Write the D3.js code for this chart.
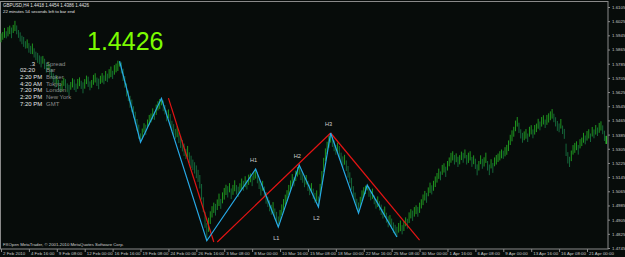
<!DOCTYPE html>
<html>
<head>
<meta charset="utf-8">
<script src="https://cdn.jsdelivr.net/npm/d3@7"></script>
<style>
  html, body { margin: 0; padding: 0; background: #070c0a; }
  svg { display: block; font-family: "Liberation Sans", Arial, sans-serif; }
</style>
</head>
<body>
<script>
// chart size (same as the screenshot)
var width = 625, height = 257;

// x axis labels, one every 16 H4 bars
var timeLabels = ["2 Feb 2010","4 Feb 16:00","9 Feb 08:00","12 Feb 00:00","16 Feb 16:00","19 Feb 08:00",
  "24 Feb 00:00","26 Feb 16:00","3 Mar 08:00","8 Mar 00:00","10 Mar 16:00","15 Mar 08:00",
  "18 Mar 00:00","22 Mar 16:00","25 Mar 08:00","30 Mar 00:00","1 Apr 16:00","6 Apr 08:00",
  "9 Apr 00:00","13 Apr 16:00","16 Apr 08:00","21 Apr 00:00"];

// price labels on the right
var priceTicks = [1.6105,1.6025,1.5945,1.5865,1.5785,1.5705,1.5625,1.5545,1.5465,
  1.5385,1.5305,1.5225,1.5145,1.5065,1.4985,1.4905,1.4825,1.4745];

// middle price of each H4 bar (GBPUSD)
var barMid = [
  1.5931,1.5942,1.5959,1.5948,1.5965,1.5976,1.5959,1.5981,1.5998,1.5976,1.5953,1.5936,1.5919,1.5908,1.5891,1.5897,1.5874,1.5863,1.5869,1.5846,
  1.5829,1.5818,1.5807,1.5795,1.5807,1.5784,1.5761,1.5773,1.5750,1.5728,1.5705,1.5683,1.5694,1.5666,1.5649,1.5660,1.5683,1.5671,1.5649,1.5637,
  1.5660,1.5677,1.5666,1.5649,1.5671,1.5683,1.5666,1.5649,1.5671,1.5694,1.5683,1.5660,1.5671,1.5694,1.5705,1.5683,1.5671,1.5694,1.5705,1.5694,
  1.5716,1.5705,1.5728,1.5739,1.5722,1.5750,1.5761,1.5773,1.5784,1.5761,1.5722,1.5683,1.5637,1.5604,1.5570,1.5547,1.5513,1.5479,1.5440,1.5401,
  1.5367,1.5389,1.5423,1.5412,1.5446,1.5468,1.5479,1.5502,1.5491,1.5525,1.5547,1.5558,1.5570,1.5547,1.5525,1.5491,1.5502,1.5468,1.5434,1.5412,
  1.5389,1.5401,1.5367,1.5344,1.5322,1.5299,1.5276,1.5288,1.5254,1.5231,1.5214,1.5197,1.5175,1.5152,1.5119,1.5062,1.4989,1.4904,1.4836,1.4876,
  1.4916,1.4949,1.4972,1.4961,1.4989,1.5017,1.4994,1.5028,1.5051,1.5073,1.5062,1.5085,1.5051,1.5073,1.5096,1.5073,1.5062,1.5085,1.5107,1.5096,
  1.5119,1.5102,1.5130,1.5141,1.5124,1.5152,1.5164,1.5141,1.5107,1.5073,1.5096,1.5062,1.5028,1.5006,1.4983,1.4961,1.4972,1.4938,1.4916,1.4893,
  1.4927,1.4961,1.4989,1.5017,1.5040,1.5073,1.5096,1.5130,1.5119,1.5152,1.5175,1.5186,1.5158,1.5141,1.5119,1.5130,1.5096,1.5073,1.5085,1.5051,
  1.5028,1.5040,1.5006,1.5073,1.5141,1.5214,1.5271,1.5310,1.5344,1.5367,1.5344,1.5322,1.5299,1.5310,1.5288,1.5254,1.5231,1.5243,1.5209,1.5175,
  1.5141,1.5107,1.5062,1.5028,1.4994,1.4972,1.5006,1.5040,1.5062,1.5073,1.5085,1.5062,1.5040,1.5051,1.5017,1.4994,1.5006,1.4983,1.4961,1.4938,
  1.4949,1.4916,1.4893,1.4904,1.4882,1.4859,1.4848,1.4836,1.4859,1.4870,1.4848,1.4870,1.4893,1.4882,1.4916,1.4938,1.4927,1.4949,1.4961,1.4949,
  1.4972,1.4994,1.5017,1.5040,1.5028,1.5062,1.5085,1.5073,1.5096,1.5119,1.5141,1.5164,1.5152,1.5186,1.5197,1.5175,1.5209,1.5231,1.5254,1.5265,
  1.5243,1.5254,1.5231,1.5243,1.5265,1.5254,1.5276,1.5243,1.5254,1.5265,1.5231,1.5243,1.5220,1.5186,1.5209,1.5243,1.5220,1.5231,1.5254,1.5209,
  1.5186,1.5220,1.5197,1.5231,1.5243,1.5254,1.5265,1.5276,1.5271,1.5288,1.5299,1.5322,1.5355,1.5378,1.5401,1.5434,1.5457,1.5423,1.5389,1.5367,
  1.5378,1.5389,1.5367,1.5401,1.5412,1.5389,1.5412,1.5423,1.5446,1.5434,1.5457,1.5468,1.5446,1.5468,1.5479,1.5491,1.5502,1.5479,1.5457,1.5434,
  1.5423,1.5446,1.5412,1.5389,1.5299,1.5254,1.5231,1.5265,1.5299,1.5310,1.5322,1.5299,1.5333,1.5344,1.5367,1.5355,1.5378,1.5389,1.5367,1.5401,
  1.5389,1.5412,1.5401,1.5423,1.5434,1.5412,1.5378,1.5355
];

// high-low range of each bar, in pips
var barRange = [
  50,44,56,40,52,48,60,46,58,50,44,52,48,56,42,50,54,46,60,52,
  48,56,50,62,44,58,52,46,60,54,50,64,48,56,52,60,46,54,50,58,
  44,52,60,48,56,50,46,62,54,48,58,50,44,56,52,48,60,46,54,50,
  56,48,52,60,46,54,50,58,30,62,70,66,74,60,68,72,64,70,66,80,
  50,60,52,58,48,56,50,62,46,58,52,56,40,60,54,62,50,66,58,64,
  56,62,60,68,64,70,58,66,62,70,60,64,72,68,76,88,84,90,100,80,
  72,64,58,66,60,70,56,62,66,58,64,52,60,56,62,54,58,50,60,56,
  62,54,58,50,60,48,54,62,58,64,56,60,66,58,62,56,64,60,66,60,
  66,60,64,58,62,56,60,64,52,58,54,54,60,56,62,54,58,60,52,58,
  56,60,60,68,76,80,72,70,66,54,58,62,56,60,64,58,62,56,60,66,
  62,68,64,60,58,60,56,60,52,48,30,56,52,58,50,54,60,52,58,54,
  60,56,62,54,58,60,56,58,54,60,52,58,50,56,60,52,58,54,50,56,
  58,52,60,54,56,50,58,52,56,60,54,58,50,56,52,58,54,50,56,52,
  54,50,58,52,48,56,50,54,58,52,56,50,58,62,54,50,56,52,58,54,
  60,52,56,50,54,48,52,50,46,52,56,60,58,62,56,60,54,58,52,56,
  50,54,48,56,52,50,54,48,56,50,54,52,48,56,52,50,54,48,52,56,
  50,54,48,56,70,64,58,60,54,56,50,54,52,48,56,50,54,52,48,54,
  50,54,48,56,52,50,58,46
];

// zigzag turning points (bar index, price)
var zigzagBar = [68, 80, 92, 118, 146, 159, 171, 182, 189, 205, 210, 227];
var zigzagPrice = [1.5799, 1.5342, 1.5590, 1.4786, 1.5191, 1.4863, 1.5213, 1.4976, 1.5394, 1.4942, 1.5100, 1.4807];

// H/L marks of the pattern
var markName = ["H1", "L1", "H2", "L2", "H3"];
var markBar = [146, 159, 171, 182, 189];
var markPrice = [1.5191, 1.4863, 1.5213, 1.4976, 1.5394];

// red trend lines: start bar, start price, end bar, end price
var trendFromBar = [96, 124, 189];
var trendFromPrice = [1.5591, 1.4779, 1.5394];
var trendToBar = [122, 189, 240];
var trendToPrice = [1.4779, 1.5394, 1.4790];

// info panel
var infoValues = ["3", "02:20", "2:20 PM", "4:20 AM", "7:20 PM", "2:20 PM", "7:20 PM"];
var infoNames = ["Spread", "Bar", "Broker", "Tokyo", "London", "New York", "GMT"];

var svg = d3.select("body").append("svg")
    .attr("width", width)
    .attr("height", height);

svg.append("rect")
    .attr("width", width).attr("height", height)
    .attr("fill", "#070c0a");

// scales
var x = d3.scaleLinear().domain([0, 336]).range([1, 587]);
var y = d3.scaleLinear().domain([1.4745, 1.6105]).range([248, 7]);

// chart frame
svg.append("rect")
    .attr("x", 0.5).attr("y", 1.5)
    .attr("width", 607.5).attr("height", 247.5)
    .attr("fill", "none")
    .attr("stroke", "#8a8a8a")
    .attr("stroke-width", 1);

var plot = svg.append("g");

// the bars
plot.selectAll(".bar")
    .data(barMid)
    .enter().append("line")
    .attr("class", "bar")
    .attr("x1", function(d, i) { return x(i); })
    .attr("x2", function(d, i) { return x(i); })
    .attr("y1", function(d, i) { return y(d + barRange[i] / 20000); })
    .attr("y2", function(d, i) { return y(d - barRange[i] / 20000); })
    .attr("stroke", function(d, i) {
      if (i == barMid.length - 1) return "#3cff3c";
      return (i == 0 || d >= barMid[i - 1]) ? "#1f961f" : "#15663a";
    })
    .attr("stroke-width", 1);

// red trend lines
plot.selectAll(".trend")
    .data(trendFromBar)
    .enter().append("line")
    .attr("class", "trend")
    .attr("x1", function(d) { return x(d); })
    .attr("y1", function(d, i) { return y(trendFromPrice[i]); })
    .attr("x2", function(d, i) { return x(trendToBar[i]); })
    .attr("y2", function(d, i) { return y(trendToPrice[i]); })
    .attr("stroke", "#e31414")
    .attr("stroke-width", 1.2);

// zigzag
var zz = d3.line()
    .x(function(d) { return x(d); })
    .y(function(d, i) { return y(zigzagPrice[i]); });

plot.append("path")
    .attr("d", zz(zigzagBar))
    .attr("fill", "none")
    .attr("stroke", "#27a9e6")
    .attr("stroke-width", 1.2);

// H / L labels
plot.selectAll(".mark")
    .data(markName)
    .enter().append("text")
    .attr("class", "mark")
    .attr("x", function(d, i) { return x(markBar[i]) - 2; })
    .attr("y", function(d, i) { return d[0] == "H" ? y(markPrice[i]) - 7 : y(markPrice[i]) + 13; })
    .attr("text-anchor", "middle")
    .attr("fill", "#d0d0d0")
    .style("font-size", "5.6px")
    .text(function(d) { return d; });

// x axis
var xAxis = svg.append("g")
    .attr("transform", "translate(0,249)")
    .call(d3.axisBottom(x)
      .tickValues(d3.range(0, 337, 16))
      .tickFormat(function(d, i) { return timeLabels[i]; })
      .tickSize(3)
      .tickSizeOuter(0));
xAxis.select(".domain").remove();
xAxis.selectAll("line").attr("stroke", "#8a8a8a");
xAxis.selectAll("text")
    .attr("fill", "#c8c8c8")
    .attr("y", 3)
    .attr("dy", "0.71em")
    .attr("dx", 1.5)
    .style("text-anchor", "start")
    .style("font-size", "4.4px")
    .style("font-family", "Liberation Sans, Arial, sans-serif");

// y axis on the right
var yAxis = svg.append("g")
    .attr("transform", "translate(608,0)")
    .call(d3.axisRight(y)
      .tickValues(priceTicks)
      .tickFormat(d3.format(".4f"))
      .tickSize(2)
      .tickSizeOuter(0));
yAxis.select(".domain").remove();
yAxis.selectAll("line").attr("stroke", "#8a8a8a");
yAxis.selectAll("text")
    .attr("fill", "#c8c8c8")
    .attr("x", 4)
    .style("font-size", "4.4px")
    .style("font-family", "Liberation Sans, Arial, sans-serif");

// header texts
svg.append("text")
    .attr("x", 3).attr("y", 7)
    .attr("fill", "#e0e0e0")
    .style("font-size", "4.5px")
    .text("GBPUSD,H4  1.4418 1.4454 1.4386 1.4426");

svg.append("text")
    .attr("x", 3).attr("y", 13)
    .attr("fill", "#e0e0e0")
    .style("font-size", "4.3px")
    .text("22 minutes 54 seconds left to bar end");

// big price
svg.append("text")
    .attr("x", 87).attr("y", 49.5)
    .attr("fill", "#7cfc00")
    .style("font-size", "25px")
    .style("font-family", "Liberation Sans, Arial, sans-serif")
    .text("1.4426");

// info panel
svg.selectAll(".infoVal")
    .data(infoValues)
    .enter().append("text")
    .attr("class", "infoVal")
    .attr("x", function(d, i) { return i == 0 ? 30 : 20; })
    .attr("y", function(d, i) { return 65.5 + i * 6.7; })
    .attr("fill", "#e4e4e4")
    .style("font-size", "6px")
    .text(function(d, i) { return i == 0 ? "." + d : d; });

svg.selectAll(".infoName")
    .data(infoNames)
    .enter().append("text")
    .attr("class", "infoName")
    .attr("x", 46)
    .attr("y", function(d, i) { return 65.5 + i * 6.7; })
    .attr("fill", "#8c8c8c")
    .style("font-size", "6px")
    .text(function(d) { return d; });

// copyright
svg.append("text")
    .attr("x", 3).attr("y", 246)
    .attr("fill", "#d0d0d0")
    .style("font-size", "4.3px")
    .text("FXOpen MetaTrader, © 2001-2010 MetaQuotes Software Corp.");
</script>
</body>
</html>
